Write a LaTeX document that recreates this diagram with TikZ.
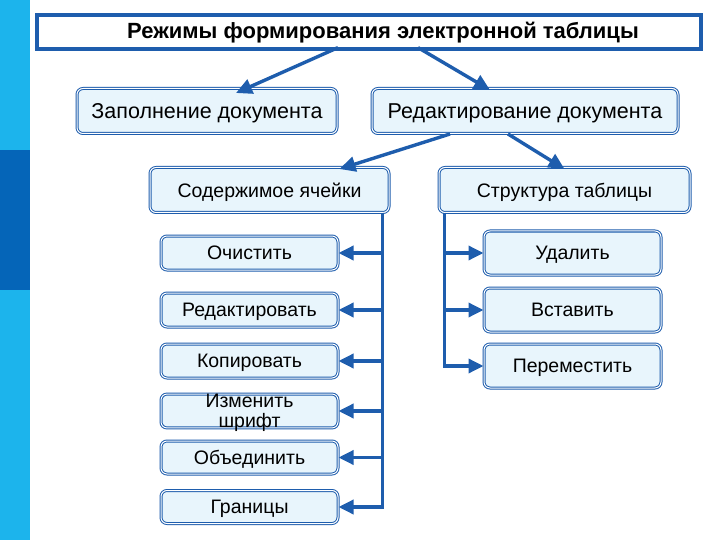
\documentclass[tikz,border=0pt]{standalone}
\usepackage{fontspec}
\setmainfont{Liberation Sans}
\usetikzlibrary{arrows.meta}
\definecolor{barcyan}{HTML}{1CB4EC}
\definecolor{bardark}{HTML}{0565B8}
\definecolor{lineblue}{HTML}{1E5DAD}
\definecolor{boxfill}{HTML}{E8F5FC}
\tikzset{
  box/.style={draw=lineblue, double=white, double distance=1pt, line width=1pt,
    rounded corners=6pt, fill=boxfill, inner sep=0pt, text=black, align=center, text depth=0pt},
  arr/.style={draw=lineblue, line width=3.4pt, -{Triangle[length=16pt,width=15pt]}},
  tarr/.style={draw=lineblue, line width=3.4pt, -{Triangle[length=15pt,width=14pt]}},
}
\begin{document}
\begin{tikzpicture}[x=1pt,y=-1pt]
\useasboundingbox (0,0) rectangle (720,540);
\fill[white] (0,0) rectangle (720,540);
\fill[barcyan] (0,0) rectangle (30,540);
\fill[bardark] (0,150) rectangle (30,290);
% title
\node[draw=lineblue, line width=3.2pt, fill=white, minimum width=664pt, minimum height=34pt, inner sep=0pt] (title) at (369,32) {};
\node[font=\bfseries\fontsize{22}{25}\selectfont, anchor=base] (ttext) at (383,39) {Режимы формирования электронной таблицы};
% level 1
\node[box, minimum width=260pt, minimum height=45pt, font=\fontsize{21.5}{24}\selectfont] (zap) at (207,111) {Заполнение документа};
\node[box, minimum width=306pt, minimum height=45pt, font=\fontsize{21.5}{24}\selectfont] (red) at (525,111) {Редактирование документа};
% level 2
\node[box, minimum width=239pt, minimum height=45pt, font=\fontsize{19.5}{22}\selectfont] (sod) at (269.5,190) {Содержимое ячейки};
\node[box, minimum width=251pt, minimum height=45pt, font=\fontsize{19.5}{22}\selectfont] (str) at (564.5,190) {Структура таблицы};
% left children
\tikzset{lc/.style={box, minimum width=177pt, font=\fontsize{19.5}{20.5}\selectfont}}
\node[lc, minimum height=34pt] (c1) at (249.5,253) {Очистить};
\node[lc, minimum height=34pt] (c2) at (249.5,310) {Редактировать};
\node[lc, minimum height=34pt] (c3) at (249.5,361) {Копировать};
\node[lc, minimum height=33pt] (c4) at (249.5,411) {Изменить\\шрифт};
\node[lc, minimum height=33pt] (c5) at (249.5,457.5) {Объединить};
\node[lc, minimum height=33pt] (c6) at (249.5,507) {Границы};
% right children
\tikzset{rc/.style={box, minimum width=177pt, minimum height=44pt, font=\fontsize{19.5}{22}\selectfont}}
\node[rc] (d1) at (572.5,253) {Удалить};
\node[rc] (d2) at (572.5,310) {Вставить};
\node[rc] (d3) at (572.5,366) {Переместить};
% arrows
\draw[arr] ([xshift=-31pt,yshift=3pt]title.south) -- ([xshift=29pt,yshift=-5pt]zap.north);
\draw[arr] ([xshift=49pt,yshift=3pt]title.south) -- ([xshift=-35pt,yshift=-2pt]red.north);
\draw[arr] ([xshift=-75pt]red.south) -- ([xshift=70pt,yshift=-2pt]sod.north);
\draw[arr] ([xshift=-17pt]red.south) -- ([xshift=0pt,yshift=-2pt]str.north);
\foreach \c in {c1,c2,c3,c4,c5,c6}
  \draw[tarr] ([xshift=-7pt]sod.south east) |- (\c.east);
\foreach \d in {d1,d2,d3}
  \draw[tarr] ([xshift=6pt]str.south west) |- (\d.west);
\end{tikzpicture}
\end{document}
